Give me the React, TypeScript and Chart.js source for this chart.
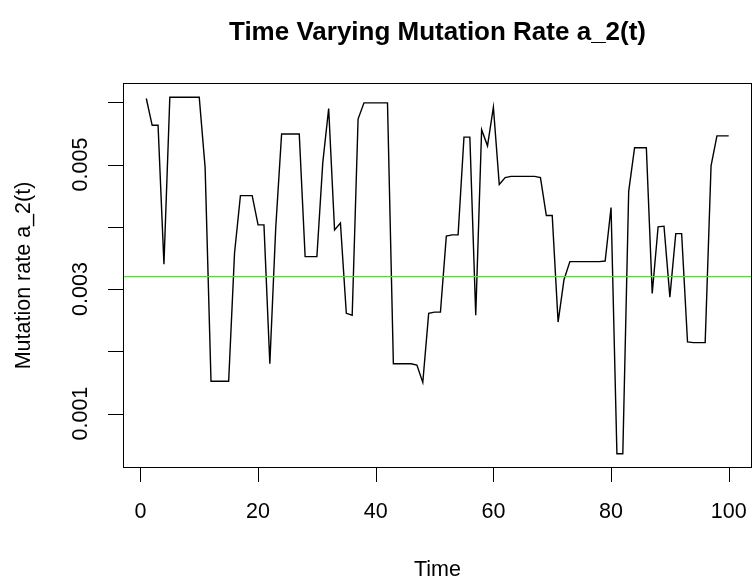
import React, { useEffect, useRef } from "react";
import { Chart, registerables } from "chart.js";

Chart.register(...registerables);

// ---- data ----
const timePoints: number[] = Array.from({ length: 100 }, (_, i) => i + 1);

const mutationRate: number[] = [
  0.00606, 0.00563, 0.00563, 0.0034, 0.00608, 0.00608, 0.00608, 0.00608, 0.00608, 0.00608,
  0.00495, 0.00152, 0.00152, 0.00152, 0.00152, 0.00358, 0.0045, 0.0045, 0.0045, 0.00403,
  0.00403, 0.0018, 0.00398, 0.00549, 0.00549, 0.00549, 0.00549, 0.00352, 0.00352, 0.00352,
  0.00503, 0.0059, 0.00395, 0.00406, 0.00261, 0.00258, 0.00573, 0.00599, 0.00599, 0.00599,
  0.00599, 0.00599, 0.0018, 0.0018, 0.0018, 0.0018, 0.00178, 0.0015, 0.00261, 0.00263,
  0.00263, 0.00385, 0.00387, 0.00387, 0.00544, 0.00544, 0.00258, 0.00556, 0.0053, 0.00592,
  0.00468, 0.00479, 0.00481, 0.00481, 0.00481, 0.00481, 0.00481, 0.00479, 0.00418, 0.00418,
  0.00247, 0.00315, 0.00344, 0.00344, 0.00344, 0.00344, 0.00344, 0.00344, 0.00345, 0.00431,
  0.000355, 0.000355, 0.00457, 0.00527, 0.00527, 0.00527, 0.00293, 0.004, 0.00401, 0.00287,
  0.00389, 0.00389, 0.00215, 0.00214, 0.00214, 0.00214, 0.00498, 0.00546, 0.00546, 0.00546,
];

const trueRate = 0.0032;

const xTicks: number[] = [0, 20, 40, 60, 80, 100];
const xTickLabels: string[] = ["0", "20", "40", "60", "80", "100"];
const yTicks: number[] = [0.001, 0.002, 0.003, 0.004, 0.005, 0.006];
const yTickLabels: string[] = ["0.001", "", "0.003", "", "0.005", ""];

const titleText = "Time Varying Mutation Rate a_2(t)";
const xAxisTitle = "Time";
const yAxisTitle = "Mutation rate a_2(t)";

// R-style 4% axis expansion
const tMin = Math.min(...timePoints);
const tMax = Math.max(...timePoints);
const xPad = (tMax - tMin) * 0.04;
const xMin = tMin - xPad;
const xMax = tMax + xPad;
const rMin = Math.min(...mutationRate);
const rMax = Math.max(...mutationRate);
const yPad = (rMax - rMin) * 0.04;
const yMin = rMin - yPad;
const yMax = rMax + yPad;

const FONT = '"Liberation Sans", Arial, Helvetica, sans-serif';

const rAxesPlugin = {
  id: "rAxes",
  afterDraw(chart: any) {
    const { ctx, chartArea: a, scales } = chart;
    const xs = scales.x;
    const ys = scales.y;
    ctx.save();
    ctx.strokeStyle = "#000";
    ctx.lineWidth = 1;
    ctx.strokeRect(a.left + 0.5, a.top + 0.5, a.right - a.left - 1, a.bottom - a.top - 1);

    ctx.beginPath();
    for (const v of xTicks) {
      const px = Math.round(xs.getPixelForValue(v)) + 0.5;
      ctx.moveTo(px, a.bottom);
      ctx.lineTo(px, a.bottom + 14);
    }
    for (const v of yTicks) {
      const py = Math.round(ys.getPixelForValue(v)) + 0.5;
      ctx.moveTo(a.left, py);
      ctx.lineTo(a.left - 15, py);
    }
    ctx.stroke();

    ctx.fillStyle = "#000";
    ctx.textAlign = "center";
    ctx.textBaseline = "middle";
    ctx.font = `21.5px ${FONT}`;
    xTicks.forEach((v, i) => {
      ctx.fillText(xTickLabels[i], xs.getPixelForValue(v), 512);
    });
    yTicks.forEach((v, i) => {
      if (!yTickLabels[i]) return;
      ctx.save();
      ctx.translate(81, ys.getPixelForValue(v));
      ctx.rotate(-Math.PI / 2);
      ctx.fillText(yTickLabels[i], 0, 0);
      ctx.restore();
    });

    ctx.fillText(xAxisTitle, (a.left + a.right) / 2, 570);
    ctx.save();
    ctx.translate(24, (a.top + a.bottom) / 2);
    ctx.rotate(-Math.PI / 2);
    ctx.fillText(yAxisTitle, 0, 0);
    ctx.restore();

    ctx.font = `bold 26px ${FONT}`;
    ctx.fillText(titleText, (a.left + a.right) / 2, 33);
    ctx.restore();
  },
};

export default function App() {
  const canvasRef = useRef<HTMLCanvasElement | null>(null);

  useEffect(() => {
    if (!canvasRef.current) return;
    const chart = new Chart(canvasRef.current, {
      type: "line",
      data: {
        datasets: [
          {
            label: "a_2(t)",
            data: mutationRate.map((v, i) => ({ x: timePoints[i], y: v })),
            borderColor: "#000000",
            borderWidth: 1.4,
            pointRadius: 0,
            tension: 0,
            fill: false,
            order: 1,
          },
          {
            label: "true rate",
            data: [
              { x: xMin, y: trueRate },
              { x: xMax, y: trueRate },
            ],
            borderColor: "#61D04F",
            borderWidth: 1.3,
            pointRadius: 0,
            tension: 0,
            fill: false,
            order: 0,
          },
        ],
      },
      options: {
        animation: false,
        responsive: false,
        devicePixelRatio: 1,
        layout: { padding: { left: 123, top: 83, right: 0, bottom: 113 } },
        plugins: {
          legend: { display: false },
          tooltip: { enabled: false },
          title: { display: false },
        },
        scales: {
          x: { type: "linear", min: xMin, max: xMax, display: false },
          y: { type: "linear", min: yMin, max: yMax, display: false },
        },
      },
      plugins: [rAxesPlugin],
    });
    return () => chart.destroy();
  }, []);

  return (
    <div style={{ position: "absolute", left: 0, top: 0, width: 752, height: 581, background: "#fff" }}>
      <canvas ref={canvasRef} width={752} height={581} />
    </div>
  );
}
